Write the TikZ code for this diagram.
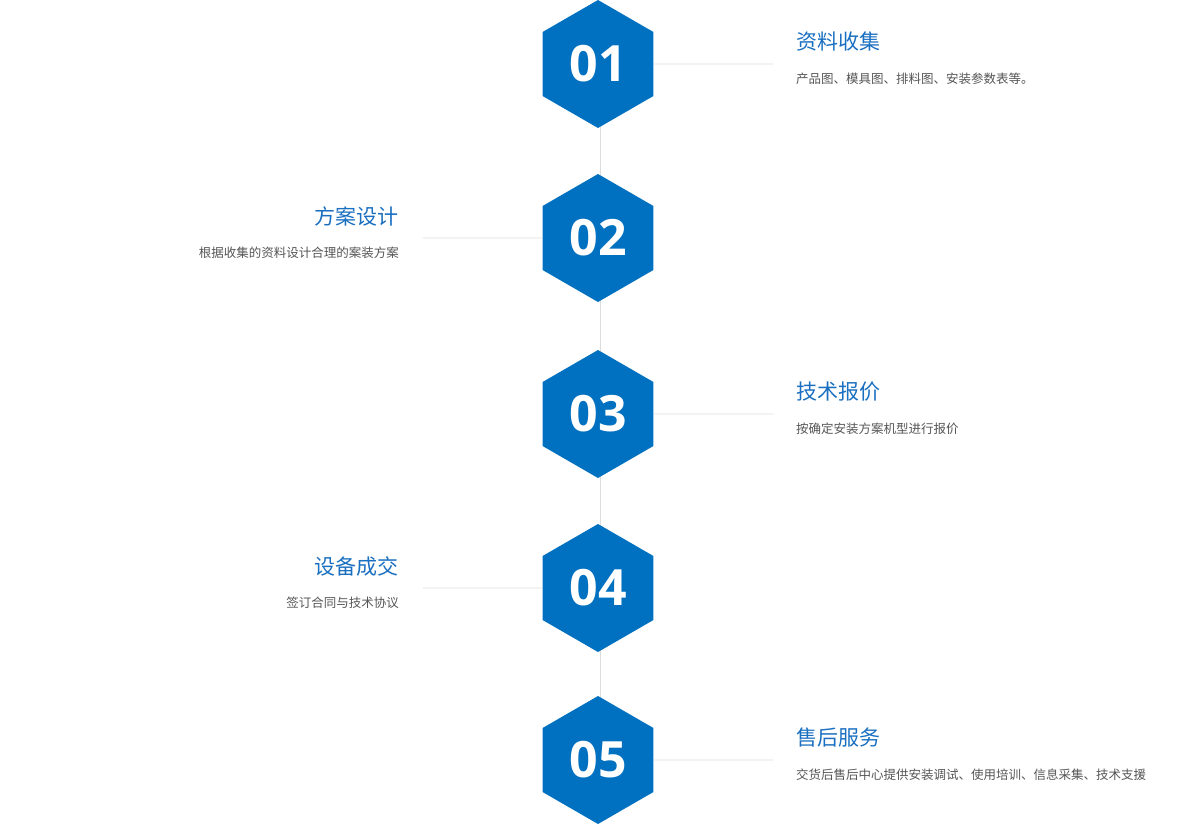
\documentclass[tikz,border=0pt]{standalone}
\usepackage{fontspec}
\setmainfont{Noto Sans CJK SC}
\newfontfamily\numfont{Open Sans}
\usetikzlibrary{shapes.geometric,positioning}
\definecolor{stepblue}{HTML}{0070C0}
\definecolor{titleblue}{HTML}{1A6FC0}
\definecolor{notegray}{HTML}{555555}
\definecolor{linegray}{HTML}{DDDDDD}
\tikzset{
  hexstep/.style={regular polygon, regular polygon sides=6, shape border rotate=30,
    minimum size=128pt, inner sep=0pt, fill=stepblue,
    text=white, font=\numfont\bfseries\fontsize{50}{50}\selectfont},
  steptitle/.style={inner sep=0pt, text=titleblue, font=\fontsize{21}{21}\selectfont},
  stepnote/.style={inner sep=0pt, text=notegray, font=\fontsize{12.5}{13}\selectfont},
  guide/.style={draw=linegray, line width=0.8pt}
}
\begin{document}
\begin{tikzpicture}[x=1pt,y=-1pt]
    \useasboundingbox (0,0) rectangle (1200,825);

    % Vertical axis
    \coordinate (top) at (600,64);
    \coordinate (bot) at (600,760);
    \draw[guide] (top) -- (bot);

    % Steps
    \node[hexstep] (s1) at (598,64) {01};
    \node[hexstep] (s2) at (598,238) {02};
    \node[hexstep] (s3) at (598,414) {03};
    \node[hexstep] (s4) at (598,588) {04};
    \node[hexstep] (s5) at (598,760) {05};

    % Right side labels
    \coordinate (e1) at (773,64);
    \draw[guide] (s1.east) -- (e1);
    \node[steptitle, anchor=west] (t1) at (796,42) {资料收集};
    \node[stepnote, anchor=west] (n1) at (796,79) {产品图、模具图、排料图、安装参数表等。};

    \coordinate (e3) at (773,414);
    \draw[guide] (s3.east) -- (e3);
    \node[steptitle, anchor=west] (t3) at (796,392) {技术报价};
    \node[stepnote, anchor=west] (n3) at (796,429) {按确定安装方案机型进行报价};

    \coordinate (e5) at (773,760);
    \draw[guide] (s5.east) -- (e5);
    \node[steptitle, anchor=west] (t5) at (796,738) {售后服务};
    \node[stepnote, anchor=west] (n5) at (796,775) {交货后售后中心提供安装调试、使用培训、信息采集、技术支援};

    % Left side labels
    \coordinate (e2) at (423,238);
    \draw[guide] (s2.west) -- (e2);
    \node[steptitle, anchor=east] (t2) at (399,216) {方案设计};
    \node[stepnote, anchor=east] (n2) at (399,253) {根据收集的资料设计合理的案装方案};

    \coordinate (e4) at (423,588);
    \draw[guide] (s4.west) -- (e4);
    \node[steptitle, anchor=east] (t4) at (399,566) {设备成交};
    \node[stepnote, anchor=east] (n4) at (399,603) {签订合同与技术协议};
\end{tikzpicture}
\end{document}
